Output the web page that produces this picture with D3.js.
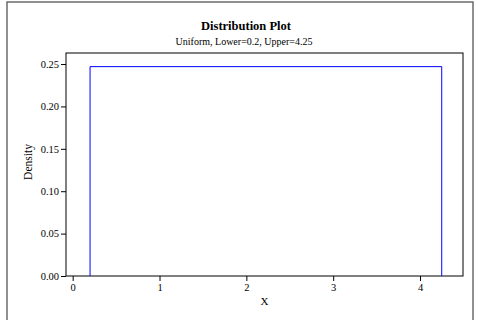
<!DOCTYPE html>
<html><head><meta charset="utf-8">
<script src="https://cdn.jsdelivr.net/npm/d3@7"></script>
<style>body{margin:0;background:#fff}svg{display:block}text{font-family:"Liberation Serif","Times New Roman",serif;fill:#000}</style>
</head><body>
<script>
const title = "Distribution Plot";
const subtitle = "Uniform, Lower=0.2, Upper=4.25";
const lower = 0.2, upper = 4.25;
const densityValue = [1/(4.25-0.2)];
const xTicks = [0,1,2,3,4];
const yTicks = [0,0.05,0.10,0.15,0.20,0.25];
const xLabel = "X", yLabel = "Density";

const W=478,H=320;
const svg=d3.select("body").append("svg").attr("width",W).attr("height",H);
// outer frame
svg.append("rect").attr("x",7).attr("y",2).attr("width",466).attr("height",330)
  .attr("fill","none").attr("stroke","#555").attr("stroke-width",1.3);
const L=66,R=463,T=53,B=276;
const x=d3.scaleLinear().domain([-0.077,4.495]).range([L,R]);
const y=d3.scaleLinear().domain([0,0.263]).range([B,T]);
svg.append("rect").attr("x",L).attr("y",T).attr("width",R-L).attr("height",B-T)
  .attr("fill","none").attr("stroke","#000").attr("stroke-width",1);
const yAx=svg.append("g").attr("transform",`translate(${L},0)`)
  .call(d3.axisLeft(y).tickValues(yTicks).tickFormat(d3.format(".2f")).tickSize(5).tickPadding(2));
const xAx=svg.append("g").attr("transform",`translate(0,${B})`)
  .call(d3.axisBottom(x).tickValues(xTicks).tickFormat(d3.format("d")).tickSize(5).tickPadding(3));
[yAx,xAx].forEach(g=>{g.select(".domain").remove();
  g.selectAll("line").attr("stroke","#000");
  g.selectAll("text").attr("font-family","Liberation Serif").attr("font-size","10.5px").attr("fill","#000");});
// density line
const d=densityValue[0];
const pts=[[lower,0],[lower,d],[upper,d],[upper,0]];
svg.append("path").attr("d",d3.line().x(p=>x(p[0])).y(p=>y(p[1]))(pts))
  .attr("fill","none").attr("stroke","#0000ff").attr("stroke-width",1);
svg.append("text").attr("x",246).attr("y",30).attr("text-anchor","middle")
  .attr("font-weight","bold").attr("font-size","12.5px").text(title);
svg.append("text").attr("x",244).attr("y",45).attr("text-anchor","middle")
  .attr("font-size","10px").text(subtitle);
svg.append("text").attr("x",(L+R)/2).attr("y",305).attr("text-anchor","middle")
  .attr("font-size","11px").text(xLabel);
svg.append("text").attr("transform",`translate(32,162) rotate(-90)`).attr("text-anchor","middle")
  .attr("font-size","11.5px").text(yLabel);
</script>
</body></html>
